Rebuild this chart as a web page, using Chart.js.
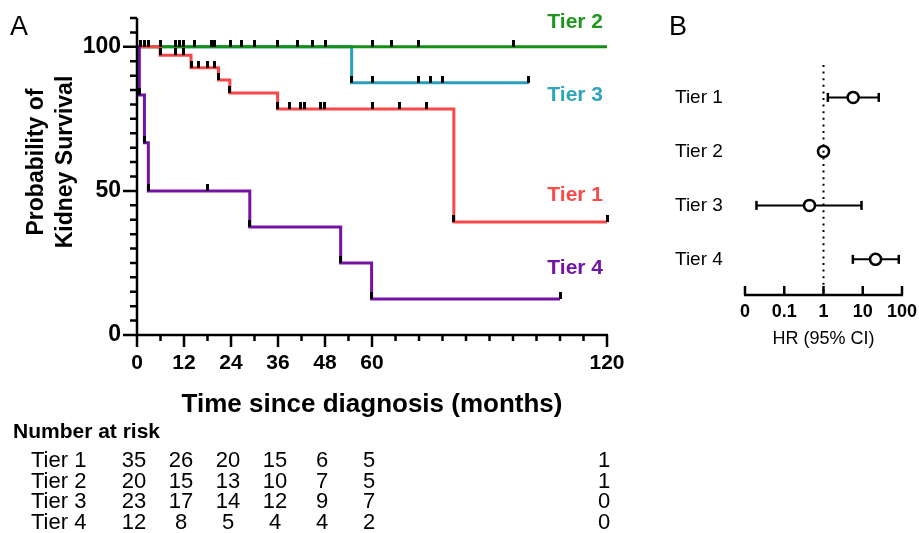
<!DOCTYPE html>
<html>
<head>
<meta charset="utf-8">
<script src="https://cdn.jsdelivr.net/npm/chart.js@4.4.0/dist/chart.umd.min.js"></script>
<style>
    html, body { margin: 0; padding: 0; background: #fff; }
    #wrap { position: relative; width: 919px; height: 533px; }
    canvas { position: absolute; left: 0; top: 0; }
</style>
</head>
<body>
<div id="wrap">
    <canvas id="km" width="919" height="533"></canvas>
    <canvas id="hr" width="919" height="533"></canvas>
</div>
<script>
/* ------ DATA ------ */
const tierNames = ["Tier 1", "Tier 2", "Tier 3", "Tier 4"];

// Kaplan-Meier steps (months, % surviving)
const tier1Time = [0, 5.9, 13.8, 20.8, 23.7, 35.9, 80.9, 120];
const tier1Surv = [100, 97.1, 92.7, 88.5, 84.0, 78.4, 39.2, 39.2];
const tier2Time = [0, 120];
const tier2Surv = [100, 100];
const tier3Time = [0, 54.8, 100];
const tier3Surv = [100, 87.5, 87.5];
const tier4Time = [0, 0.6, 1.9, 2.9, 28.8, 52, 59.9, 108];
const tier4Surv = [100, 83.3, 66.7, 50, 37.5, 25, 12.5, 12.5];

// censored times (months)
const tier1Censor = [9.9, 11.8, 15.8, 17.9, 19.9, 38.9, 41.8, 42.7, 46.9, 47.8, 60, 67, 74, 120];
const tier2Censor = [0.8, 1.9, 2.9, 5.9, 9.9, 10.9, 11.8, 14.8, 18.9, 19.9, 23.9, 26.8, 29.9,
    35.9, 40.9, 44.9, 48, 60.1, 65.1, 71.8, 96];
const tier3Censor = [60, 71.8, 75, 78, 100];
const tier4Censor = [18, 108];

const xTicks = [0, 12, 24, 36, 48, 60, 120];
const yTicks = [0, 50, 100];

// number at risk
const riskTimes = [0, 12, 24, 36, 48, 60, 120];
const risk1 = [35, 26, 20, 15, 6, 5, 1];
const risk2 = [20, 15, 13, 10, 7, 5, 1];
const risk3 = [23, 17, 14, 12, 9, 7, 0];
const risk4 = [12, 8, 5, 4, 4, 2, 0];

// hazard ratios
const hrValue = [5.7, 1, 0.44, 21.2];
const hrLow = [1.29, null, 0.0196, 5.6];
const hrHigh = [25.6, null, 9.3, 82.8];
const hrTicks = [0.01, 0.1, 1, 10, 100];
const hrTickLabels = ["0", "0.1", "1", "10", "100"];

/* ------ STYLE ------ */
const FONT = '"Liberation Sans", Arial, Helvetica, sans-serif';
const lineColors = ["#f94848", "#168f16", "#2a9fba", "#7512a5"];
const labelColors = ["#f94a4a", "#1f951f", "#2ea4bd", "#7414a5"];

function survAt(t, s, time) {
    let v = s[0];
    for (let i = 0; i < t.length; i++) if (t[i] <= time) v = s[i];
    return v;
}
function stepData(t, s) {
    return t.map((x, i) => ({ x, y: s[i] }));
}
function markData(t, s, cens) {
    const pts = [];
    for (let i = 1; i < t.length; i++) if (s[i] < s[i - 1]) pts.push({ x: t[i], y: s[i] });
    cens.forEach(c => pts.push({ x: c, y: survAt(t, s, c) }));
    return pts;
}

// small upward tick used as censor symbol
const tickImg = document.createElement("canvas");
tickImg.width = 3;
tickImg.height = 14;
tickImg.getContext("2d").fillRect(0, 0, 3, 7);

const allMarks = [
    ...markData(tier3Time, tier3Surv, tier3Censor),
    ...markData(tier2Time, tier2Surv, tier2Censor),
    ...markData(tier1Time, tier1Surv, tier1Censor),
    ...markData(tier4Time, tier4Surv, tier4Censor),
];

const kmLine = (t, s, color) => ({
    data: stepData(t, s),
    borderColor: color,
    borderWidth: 3,
    stepped: true,
    pointRadius: 0,
    fill: false,
    clip: false,
});

/* ------ PANEL A ------ */
const kmDecor = {
    id: "kmDecor",
    afterDatasetsDraw(chart) {
        const { ctx } = chart;
        const xs = chart.scales.x, ys = chart.scales.y;
        const x0 = xs.getPixelForValue(0), y0 = ys.getPixelForValue(0);
        ctx.save();
        ctx.strokeStyle = "#000";
        ctx.fillStyle = "#000";
        ctx.lineWidth = 2.5;

        // y axis
        ctx.beginPath();
        ctx.moveTo(x0, y0 + 1);
        ctx.lineTo(x0, ys.getPixelForValue(110));
        for (let v = 0; v <= 110; v += 5) {
            const y = ys.getPixelForValue(v);
            ctx.moveTo(x0, y);
            ctx.lineTo(x0 - (yTicks.includes(v) ? 14 : 7), y);
        }
        // x axis
        ctx.moveTo(x0, y0);
        ctx.lineTo(xs.getPixelForValue(120) + 1, y0);
        for (let v = 0; v <= 120; v += 6) {
            const x = xs.getPixelForValue(v);
            ctx.moveTo(x, y0);
            ctx.lineTo(x, y0 + (xTicks.includes(v) ? 12 : 6));
        }
        ctx.stroke();

        ctx.textBaseline = "middle";
        ctx.textAlign = "right";
        ctx.font = "bold 23px " + FONT;
        yTicks.forEach(v => ctx.fillText(String(v), x0 - 16, ys.getPixelForValue(v)));
        ctx.textAlign = "center";
        ctx.font = "bold 21px " + FONT;
        xTicks.forEach(v => ctx.fillText(String(v), xs.getPixelForValue(v), y0 + 28));

        // titles
        ctx.font = "bold 26px " + FONT;
        ctx.fillText("Time since diagnosis (months)", 372, 405);
        ctx.save();
        ctx.translate(37, 162);
        ctx.rotate(-Math.PI / 2);
        ctx.font = "bold 23px " + FONT;
        ctx.fillText("Probability of", 0, 0);
        ctx.fillText("Kidney Survival", 0, 29);
        ctx.restore();

        ctx.textAlign = "left";
        ctx.font = "27px " + FONT;
        ctx.fillText("A", 10, 28);

        // curve labels
        ctx.font = "bold 21px " + FONT;
        ctx.textAlign = "right";
        const labelY = [195, 22, 95, 268];
        tierNames.forEach((n, i) => {
            ctx.fillStyle = labelColors[i];
            ctx.fillText(n, 603, labelY[i]);
        });

        // number at risk table
        ctx.fillStyle = "#000";
        ctx.textAlign = "left";
        ctx.font = "bold 21px " + FONT;
        ctx.fillText("Number at risk", 13, 432);
        ctx.font = "22px " + FONT;
        const rows = [risk1, risk2, risk3, risk4];
        const rowY = [461, 482, 502, 523];
        rows.forEach((r, i) => {
            ctx.textAlign = "left";
            ctx.fillText(tierNames[i], 31, rowY[i]);
            ctx.textAlign = "center";
            r.forEach((n, j) => ctx.fillText(String(n), xs.getPixelForValue(riskTimes[j]) - 3, rowY[i]));
        });
        ctx.restore();
    },
};

new Chart(document.getElementById("km"), {
    type: "line",
    data: {
        datasets: [
            { data: allMarks, showLine: false, pointStyle: tickImg, pointRadius: 7, clip: false },
            kmLine(tier4Time, tier4Surv, lineColors[3]),
            kmLine(tier1Time, tier1Surv, lineColors[0]),
            kmLine(tier2Time, tier2Surv, lineColors[1]),
            kmLine(tier3Time, tier3Surv, lineColors[2]),
        ],
    },
    options: {
        responsive: false,
        animation: false,
        devicePixelRatio: 1,
        layout: { padding: { left: 137, right: 312, top: 18, bottom: 198 } },
        plugins: { legend: { display: false }, tooltip: { enabled: false } },
        scales: {
            x: { type: "linear", min: 0, max: 120, display: false },
            y: { type: "linear", min: 0, max: 110, display: false },
        },
    },
    plugins: [kmDecor],
});

/* ------ PANEL B ------ */
const hrDecor = {
    id: "hrDecor",
    afterDatasetsDraw(chart) {
        const { ctx } = chart;
        const xs = chart.scales.x, ys = chart.scales.y;
        const yAxis = ys.getPixelForValue(ys.max);
        ctx.save();
        ctx.strokeStyle = "#000";
        ctx.fillStyle = "#000";
        ctx.lineWidth = 2.5;
        ctx.beginPath();
        ctx.moveTo(xs.getPixelForValue(hrTicks[0]) - 1, yAxis);
        ctx.lineTo(xs.getPixelForValue(hrTicks[hrTicks.length - 1]) + 1, yAxis);
        hrTicks.forEach(v => {
            const x = xs.getPixelForValue(v);
            ctx.moveTo(x, yAxis);
            ctx.lineTo(x, yAxis - 9);
        });
        ctx.stroke();

        ctx.textBaseline = "middle";
        ctx.textAlign = "center";
        ctx.font = "bold 18px " + FONT;
        hrTicks.forEach((v, i) => ctx.fillText(hrTickLabels[i], xs.getPixelForValue(v), yAxis + 17));
        ctx.font = "18px " + FONT;
        ctx.fillText("HR (95% CI)", xs.getPixelForValue(1), yAxis + 44);

        ctx.textAlign = "left";
        ctx.font = "19px " + FONT;
        tierNames.forEach((n, i) => ctx.fillText(n, 675, ys.getPixelForValue(i + 1)));
        ctx.font = "27px " + FONT;
        ctx.fillText("B", 669, 28);
        ctx.restore();
    },
};

const hrBars = hrValue
    .map((v, i) => (hrLow[i] == null ? null : {
        data: [{ x: hrLow[i], y: i + 1 }, { x: hrHigh[i], y: i + 1 }],
        showLine: true,
        borderColor: "#000",
        borderWidth: 2,
        pointStyle: "line",
        rotation: 90,
        pointRadius: 4.5,
        pointBorderWidth: 2.5,
        pointBorderColor: "#000",
    }))
    .filter(Boolean);

new Chart(document.getElementById("hr"), {
    type: "scatter",
    data: {
        datasets: [
            {
                data: [{ x: 1, y: 0.4 }, { x: 1, y: 4.66 }],
                showLine: true,
                borderColor: "#000",
                borderWidth: 2,
                borderDash: [2, 4.6],
                pointRadius: 0,
            },
            {
                data: hrValue.map((v, i) => ({ x: v, y: i + 1 })),
                pointStyle: "circle",
                pointRadius: 5.5,
                pointBackgroundColor: "#fff",
                pointBorderColor: "#000",
                pointBorderWidth: 2.5,
            },
            ...hrBars,
        ],
    },
    options: {
        responsive: false,
        animation: false,
        devicePixelRatio: 1,
        layout: { padding: { left: 745, right: 17, top: 65, bottom: 238 } },
        plugins: { legend: { display: false }, tooltip: { enabled: false } },
        scales: {
            x: { type: "logarithmic", min: 0.01, max: 100, display: false },
            y: { type: "linear", min: 0.4, max: 4.66, reverse: true, display: false },
        },
    },
    plugins: [hrDecor],
});
</script>
</body>
</html>
